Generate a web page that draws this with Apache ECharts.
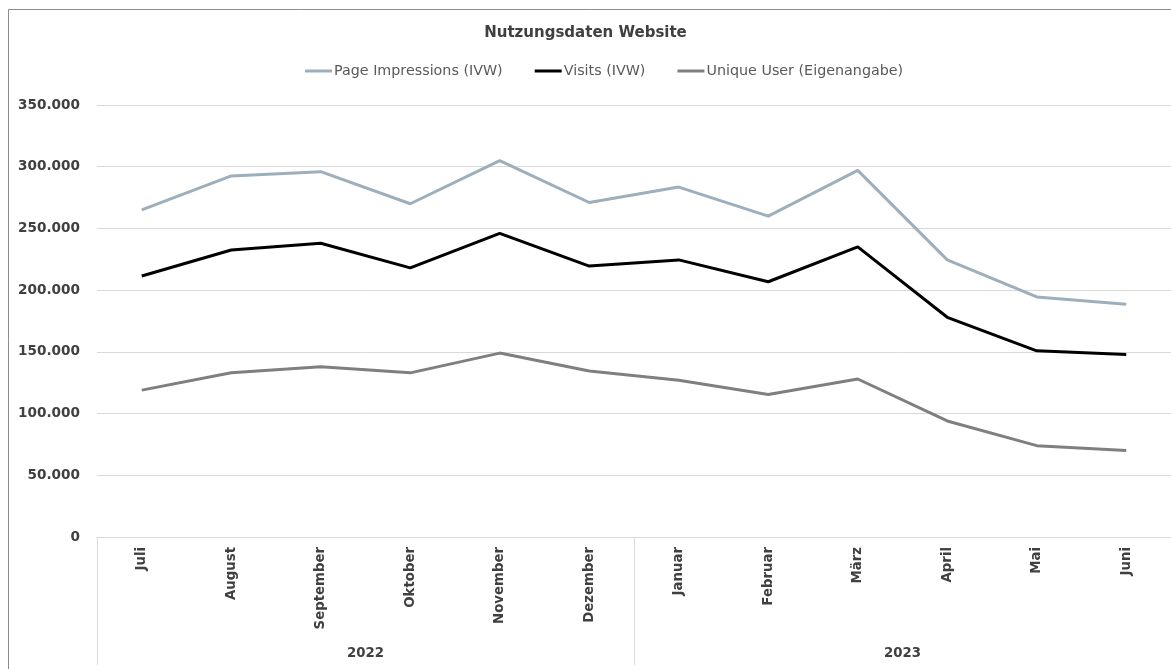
<!DOCTYPE html>
<html><head><meta charset="utf-8">
<script src="https://cdn.jsdelivr.net/npm/echarts@6/dist/echarts.min.js"></script>
<style>html,body{margin:0;padding:0;background:#fff}#c{width:1171px;height:669px}</style>
</head><body><div id="c"></div>
<script>
var months = ['Juli','August','September','Oktober','November','Dezember','Januar','Februar','März','April','Mai','Juni'];
var years = ['2022','2023'];
var pageImpressions = [265000, 292500, 296000, 270000, 305000, 271000, 283500, 260000, 297000, 224500, 194500, 188500];
var visits = [211500, 232500, 238000, 218000, 246000, 219500, 224500, 206800, 235000, 178000, 150800, 147800];
var uniqueUser = [119000, 133000, 138000, 133000, 149000, 134500, 127000, 115500, 128000, 94000, 74000, 70000];
var yTicks = {min: 0, max: 350000, interval: 50000};

var FONT = 'DejaVu Sans';
var chart = echarts.init(document.getElementById('c'));
function fmt(v){ return v === 0 ? '0' : String(v).replace(/\B(?=(\d{3})+(?!\d))/g, '.'); }
chart.setOption({
  animation: false,
  graphic: [{type:'rect', shape:{x:8.5,y:9.5,width:1200,height:700}, style:{fill:'none', stroke:'#8c8c8c', lineWidth:1}, silent:true}],
  title: {text:'Nutzungsdaten Website', left:'center', top:21, textStyle:{fontFamily:FONT, fontSize:15, fontWeight:'bold', color:'#404040'}},
  legend: {top:59, left:300, icon:'rect', itemWidth:27, itemHeight:3, itemGap:32,
    textStyle:{fontFamily:FONT, fontSize:14.3, color:'#595959', padding:[0,0,0,-3]}},
  grid: {left:97, right:0, top:105, bottom:132, containLabel:false},
  xAxis: [
    {type:'category', data:months, boundaryGap:true, position:'bottom',
      axisLine:{show:true, lineStyle:{color:'#d9d9d9'}}, axisTick:{show:false},
      axisLabel:{rotate:90, margin:10, fontFamily:FONT, fontSize:13.3, fontWeight:'bold', color:'#404040'}},
    {type:'category', data:years, boundaryGap:true, position:'bottom', offset:0,
      axisLine:{show:false}, axisTick:{show:true, length:128, alignWithLabel:false, lineStyle:{color:'#d9d9d9'}},
      axisLabel:{margin:110, fontFamily:FONT, fontSize:13.3, fontWeight:'bold', color:'#404040'}}
  ],
  yAxis: {type:'value', min:yTicks.min, max:yTicks.max, interval:yTicks.interval,
    axisLine:{show:false}, axisTick:{show:false},
    splitLine:{lineStyle:{color:'#d9d9d9'}},
    axisLabel:{formatter:fmt, margin:17, fontFamily:FONT, fontSize:13.6, fontWeight:'bold', color:'#404040'}},
  series: [
    {name:'Page Impressions (IVW)', type:'line', data:pageImpressions, symbol:'none', lineStyle:{width:3, color:'#9dafbd'}, itemStyle:{color:'#9dafbd'}},
    {name:'Visits (IVW)', type:'line', data:visits, symbol:'none', lineStyle:{width:3, color:'#000000'}, itemStyle:{color:'#000000'}},
    {name:'Unique User (Eigenangabe)', type:'line', data:uniqueUser, symbol:'none', lineStyle:{width:3, color:'#7f7f7f'}, itemStyle:{color:'#7f7f7f'}}
  ]
});
</script></body></html>
